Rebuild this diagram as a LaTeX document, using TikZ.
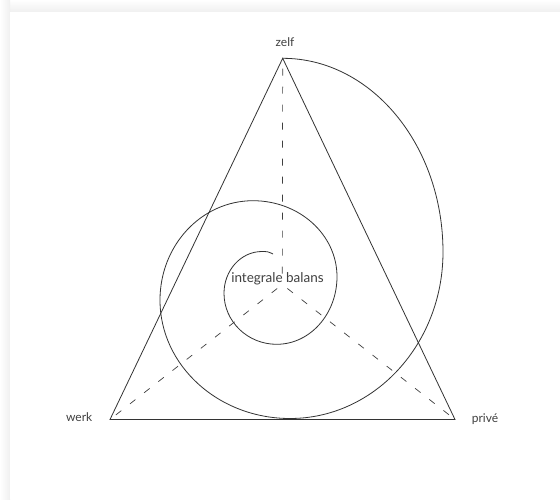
\documentclass[tikz,border=0pt]{standalone}
\usepackage{fontspec}
\setmainfont{Lato}
\begin{document}
\begin{tikzpicture}[x=1pt,y=-1pt,
  edge/.style={draw=black!80, line width=0.8pt, line join=miter},
  spoke/.style={draw=black!75, line width=0.7pt, dash pattern=on 7pt off 11pt},
  lbl/.style={text=black!75, font=\fontsize{12}{14}\selectfont, inner sep=0pt, anchor=base},
  spiralline/.style={draw=black!80, line width=0.8pt}]
\useasboundingbox (0,0) rectangle (560,499);
\fill[white] (0,0) rectangle (560,499);
\shade[top color=white, bottom color=black!6] (0,0) rectangle (560,11.7);
\shade[left color=white, right color=black!6] (0,0) rectangle (10,499);
\fill[white] (10,11.7) rectangle (560,499);
% vertices
\coordinate (zelf) at (282.7,58.3);
\coordinate (werk) at (110,419.5);
\coordinate (prive) at (455,419.5);
\coordinate (m) at (282.3,284.5);
% triangle
\draw[edge] (zelf) -- (werk) -- (prive) -- cycle;
% spokes
\draw[spoke, dash phase=7pt] (m) -- (zelf);
\draw[spoke, dash phase=11.5pt] (m) -- (werk);
\draw[spoke, dash phase=11.5pt] (m) -- (prive);
% spiral
\draw[spiralline] (273,254) .. controls (268,251.6) .. (262,251.5)
 .. controls (241.0,251.5) and (224,270.2) .. (224,293.3)
 .. controls (224,321.5) and (247.6,344.3) .. (276.7,344.3)
 .. controls (310.0,344.3) and (337,314.0) .. (337,276.7)
 .. controls (337,234.7) and (299.4,200.7) .. (253,200.7)
 .. controls (201.6,200.7) and (160,245.2) .. (160,300)
 .. controls (160,365.4) and (218.2,418.5) .. (290,418.5)
 .. controls (374.5,418.5) and (443,344.0) .. (443,252)
 .. controls (443,145.0) and (371.2,58.3) .. (zelf);
% labels
\node[lbl] (lz) at (285,46.7) {zelf};
\node[lbl] (lw) at (79.2,421.7) {werk};
\node[lbl] (lp) at (485,422.3) {privé};
\node[lbl, font=\fontsize{13.5}{16}\selectfont] (lm) at (277.5,282.7) {integrale balans};
\end{tikzpicture}
\end{document}
